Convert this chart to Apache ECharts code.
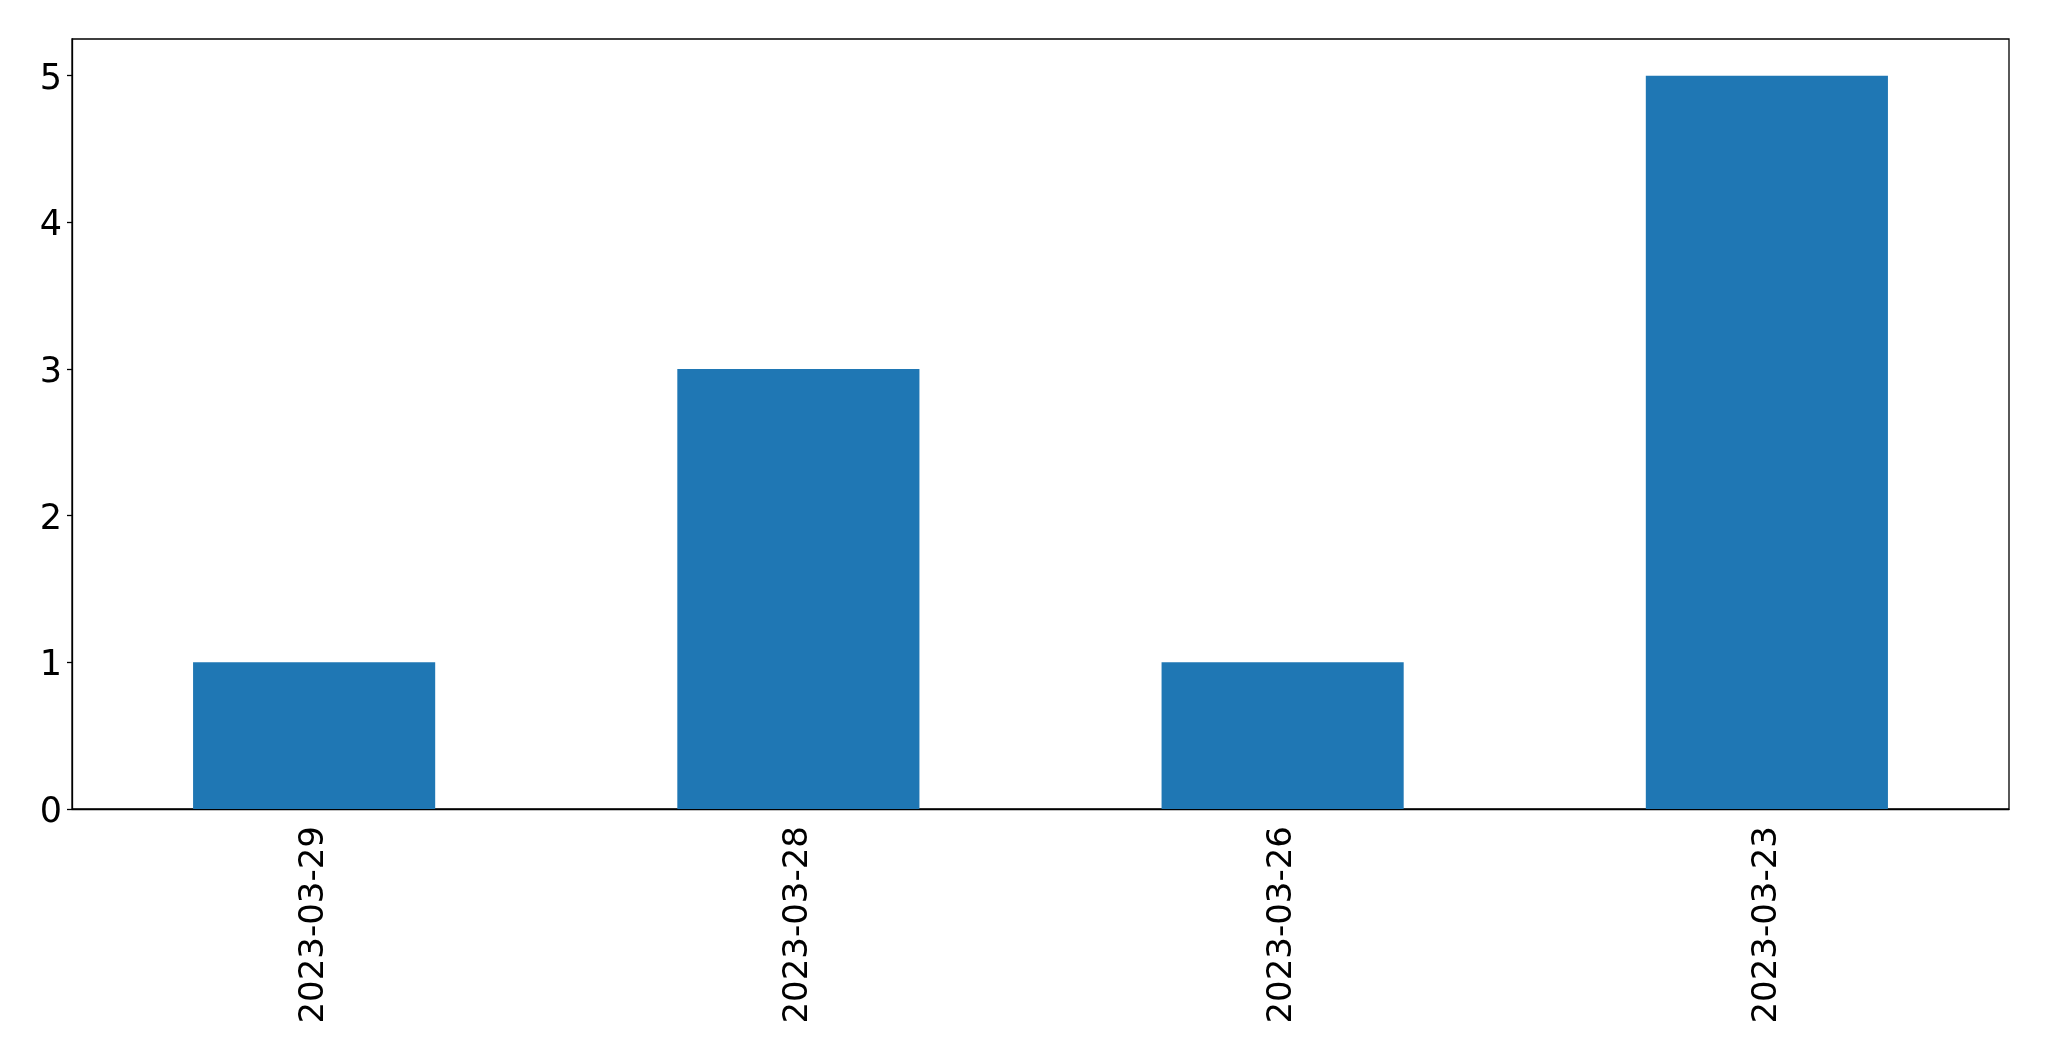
<!DOCTYPE html>
<html>
<head>
<meta charset="utf-8">
<script src="https://cdn.jsdelivr.net/npm/echarts@6/dist/echarts.min.js"></script>
<style>
html,body{margin:0;padding:0;background:#fff;}
#chart{width:2049px;height:1061px;}
</style>
</head>
<body>
<div id="chart"></div>
<script>
const categories = ['2023-03-29', '2023-03-28', '2023-03-26', '2023-03-23'];
const values = [1, 3, 1, 5];
const yTicks = [0, 1, 2, 3, 4, 5];

const chart = echarts.init(document.getElementById('chart'), null, {renderer: 'canvas'});
const font = 'DejaVu Sans';
chart.setOption({
  animation: false,
  backgroundColor: '#ffffff',
  grid: {
    left: 72, right: 40, top: 39, bottom: 252,
    show: true, borderColor: '#000', borderWidth: 1.3, backgroundColor: 'transparent'
  },
  xAxis: {
    type: 'category',
    data: categories,
    axisLine: {lineStyle: {color: '#000', width: 1.3}},
    axisTick: {alignWithLabel: true, length: 5, lineStyle: {color: '#000', width: 1.3}},
    axisLabel: {rotate: 90, fontFamily: font, fontSize: 34, color: '#000', margin: 17},
    splitLine: {show: false}
  },
  yAxis: {
    type: 'value',
    min: 0, max: 5.25,
    interval: 1,
    axisLine: {show: true, lineStyle: {color: '#000', width: 1.3}},
    axisTick: {show: true, length: 5, customValues: yTicks, lineStyle: {color: '#000', width: 1.3}},
    axisLabel: {
      fontFamily: font, fontSize: 35, color: '#000', margin: 10, customValues: yTicks,
      formatter: '{t|{value}}',
      rich: {t: {fontFamily: font, fontSize: 35, color: '#000', lineHeight: 35, padding: [8, 0, 0, 0]}}
    },
    splitLine: {show: false}
  },
  series: [{
    type: 'bar',
    data: values,
    barWidth: '50%',
    itemStyle: {color: '#1f77b4'}
  }]
});
</script>
</body>
</html>
